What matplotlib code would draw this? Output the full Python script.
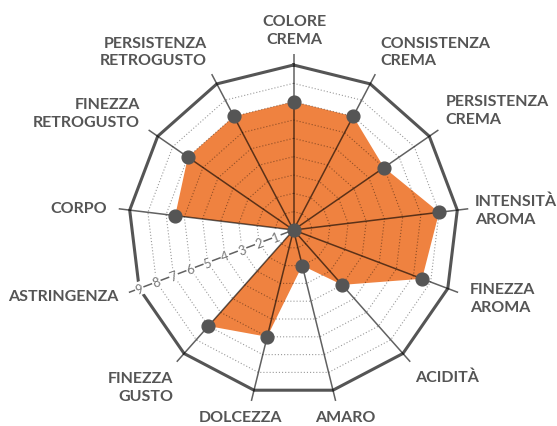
import numpy as np
import matplotlib
matplotlib.use("Agg")
import matplotlib.pyplot as plt

categories = ["COLORE\nCREMA", "CONSISTENZA\nCREMA", "PERSISTENZA\nCREMA",
              "INTENSITÀ\nAROMA", "FINEZZA\nAROMA", "ACIDITÀ", "AMARO",
              "DOLCEZZA", "FINEZZA\nGUSTO", "ASTRINGENZA", "CORPO",
              "FINEZZA\nRETROGUSTO", "PERSISTENZA\nRETROGUSTO"]
values = [7, 7, 6, 8, 7.5, 4, 2, 6, 7, 0, 6.5, 7, 7]
tick_levels = [1, 2, 3, 4, 5, 6, 7, 8, 9]
r_max = 9

W, H = 557, 427
fig = plt.figure(figsize=(W / 100, H / 100), dpi=100)
cx, cy, R = 293.5, 231, 165
ax = fig.add_axes([(cx - R) / W, (H - cy - R) / H, 2 * R / W, 2 * R / H],
                  projection="polar")
ax.set_theta_zero_location("N")
ax.set_theta_direction(-1)
ax.set_ylim(0, r_max)
ax.axis("off")

n = len(categories)
theta = np.arange(n) * 2 * np.pi / n
theta_c = np.append(theta, theta[0])

orange = "#EF8240"
vals_c = np.append(values, values[0])
ax.fill(theta_c, vals_c, color=orange, zorder=1, lw=0)

# dotted grid polygons
for lv in tick_levels[:-1]:
    ax.plot(theta_c, [lv] * (n + 1), color="black", alpha=0.4, lw=0.8,
            ls=(0, (1, 1.8)), zorder=2)
# outer polygon
ax.plot(theta_c, [r_max] * (n + 1), color="#555555", lw=2.2, zorder=3,
        solid_joinstyle="miter", clip_on=False)
# spokes
for t in theta:
    ax.plot([t, t], [0, r_max * 1.067], color="black", alpha=0.62, lw=1.1,
            zorder=3, clip_on=False, solid_capstyle="butt")

# points
ax.plot(theta, values, "o", color="#555555", ms=9.2, zorder=5, clip_on=False)

# radial tick labels along ASTRINGENZA axis
ta = theta[categories.index("ASTRINGENZA")]
rot = (90 - np.degrees(ta)) % 180
for lv in tick_levels:
    ax.text(ta, lv, str(lv), rotation=rot, ha="center", va="center",
            fontsize=9.3, color="#777777", family="Lato", fontweight="normal",
            zorder=6, rotation_mode="anchor", clip_on=False,
            bbox=dict(boxstyle="square,pad=0.06", fc="white", ec="none"))

# category labels
label_pos = [(294, 31, "center"), (380, 52.5, "left"), (445.7, 111, "left"),
             (475, 210.5, "left"), (470, 299, "left"), (415, 378, "left"),
             (345.7, 418, "center"), (240.5, 418, "center"),
             (173, 388, "right"), (118, 297, "right"), (107, 209.5, "right"),
             (140, 114, "right"), (206.7, 52.5, "right")]
for lab, (x, y, ha) in zip(categories, label_pos):
    fig.text(x / W, 1 - y / H, lab, ha=ha, va="center", multialignment=ha,
             fontsize=11.5, fontweight="bold", family="Lato", color="#555555",
             linespacing=1.32)

fig.savefig("out.png", dpi=100)
